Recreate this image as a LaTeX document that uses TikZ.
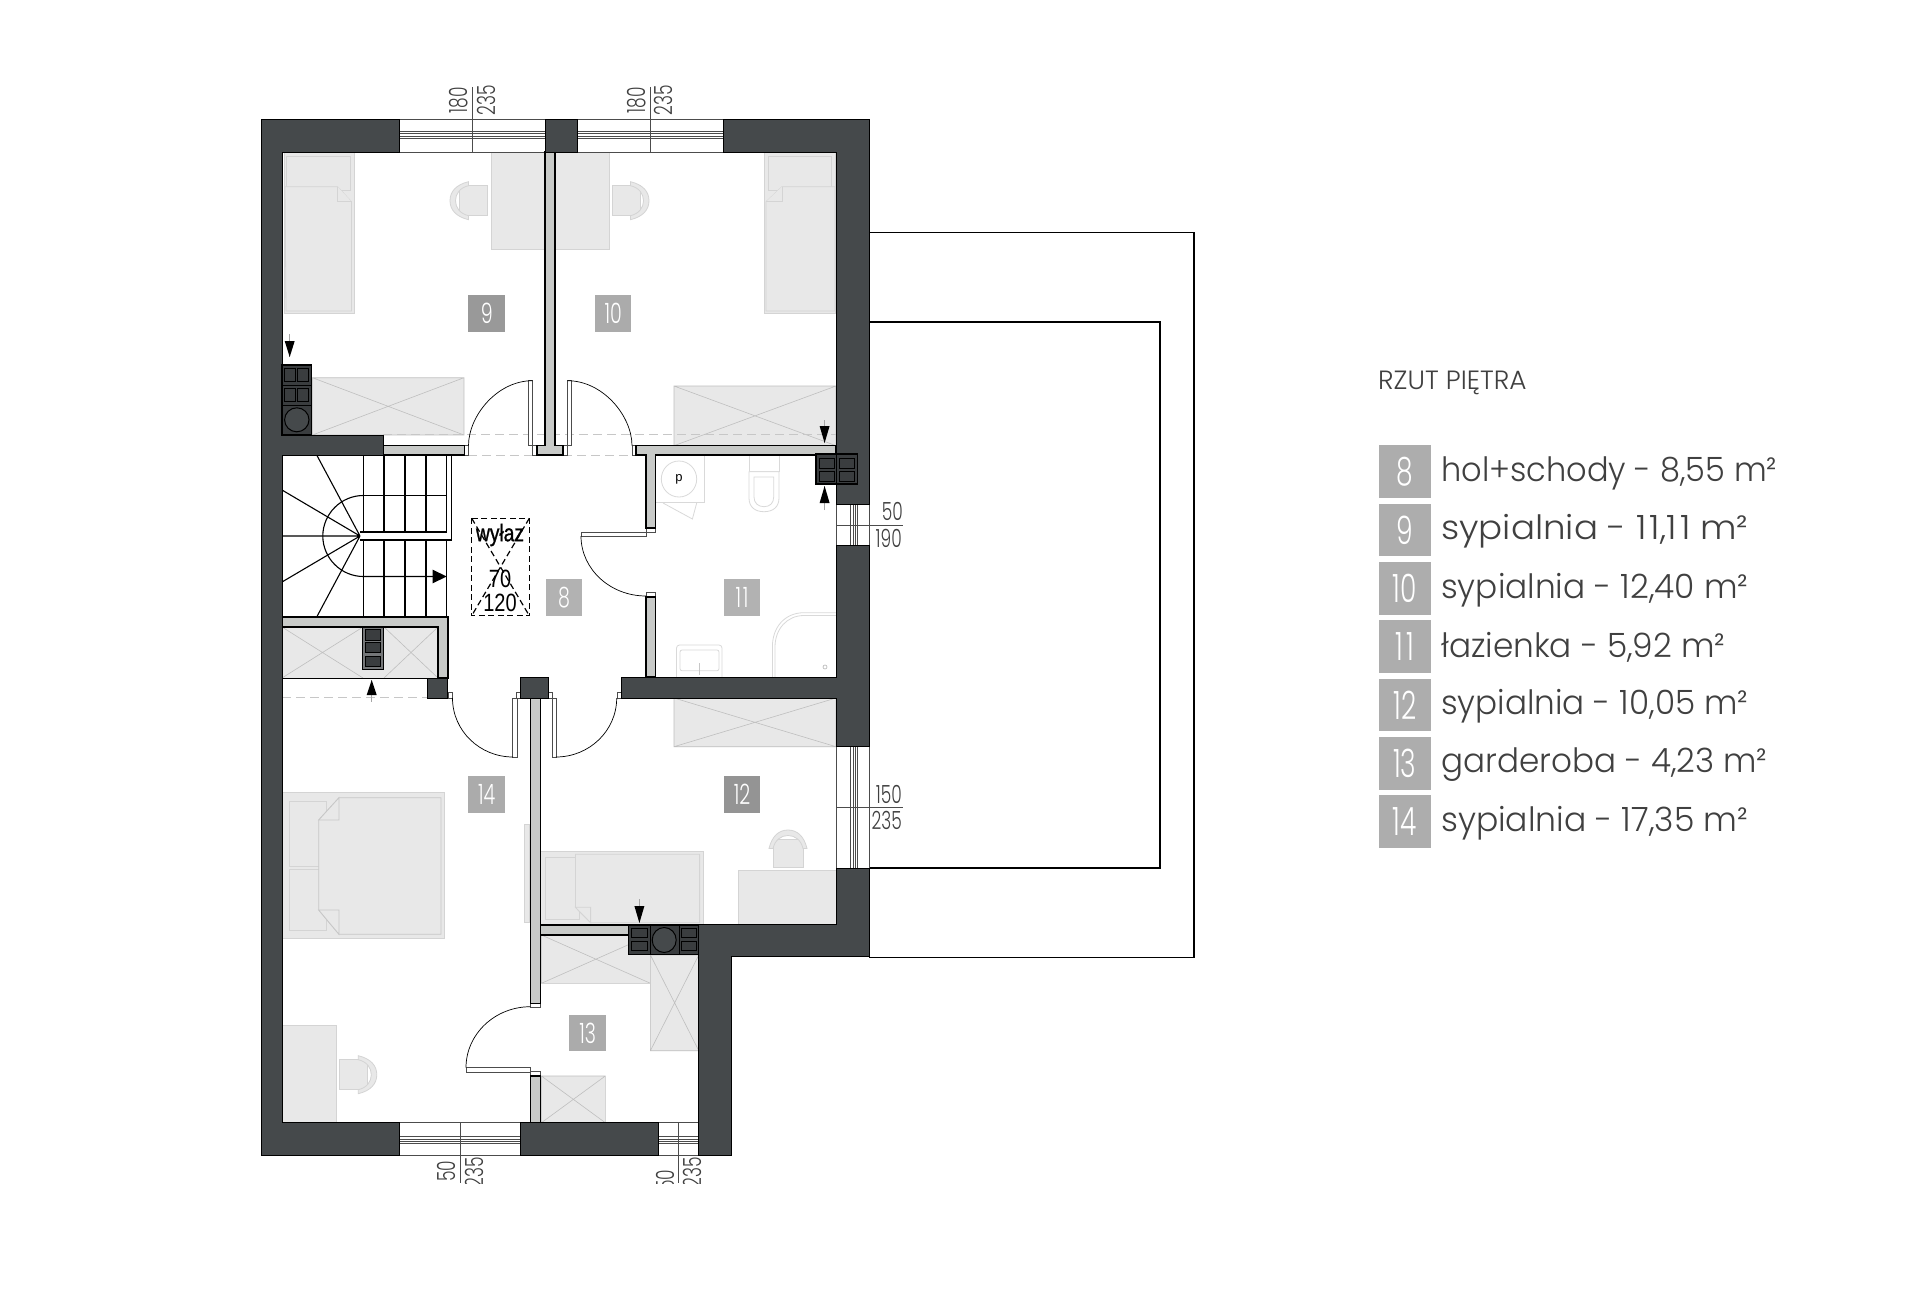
\documentclass[tikz,border=0pt]{standalone}
\usepackage{fontspec}
\setmainfont{Poppins}
\newfontfamily\lf{Poppins Light}
\newfontfamily\lib{Liberation Sans}
\newfontfamily\libb{Liberation Sans}[FakeBold=1.2]
\definecolor{wall}{HTML}{45494B}
\definecolor{part}{HTML}{C8CAC8}
\definecolor{furnf}{HTML}{E8E8E8}
\definecolor{furnd}{HTML}{D4D4D4}
\definecolor{txt}{HTML}{404040}
\definecolor{flue}{HTML}{3A3D3F}
\newcommand\fs[1]{\fontsize{#1}{#1}\selectfont}
\newcommand\nar[1]{\scalebox{.68}[1]{#1}}
\newcommand\fitw[2]{\resizebox{#1pt}{\height}{#2}}
\tikzset{
  wallp/.style={fill=wall,draw=black,line width=1pt,line join=miter},
  partp/.style={fill=part,draw=black,line width=1.2pt},
  furn/.style={fill=furnf,draw=furnd,line width=.8pt},
  xline/.style={draw=furnd!90!black,line width=.6pt},
  winl/.style={draw=black!70,line width=.6pt},
  dimtext/.style={font=\lf\fs{25},text=txt,inner sep=0pt},
  badge/.style={minimum width=36.5pt,minimum height=36.5pt,inner sep=0pt,text=white,font=\lf\fs{28}},
  lbadge/.style={fill=black!32,minimum width=52.7pt,minimum height=52.7pt,inner sep=0pt,text=white,font=\lf\fs{39},anchor=north west},
  legend/.style={font=\lf\fs{33.5},text=txt,anchor=base west,inner sep=0pt},
  thinblack/.style={draw=black,line width=.7pt},
  dashg/.style={draw=black!22,line width=1pt,dash pattern=on 9pt off 5pt},
  leaf/.style={fill=white,draw=black!70,line width=.7pt},
  stair/.style={draw=black,line width=1.1pt},
  sani/.style={draw=black!15,line width=.8pt,fill=white},
}
\newcommand\closet[4]{\fill[furnf] (#1,#2) rectangle (#3,#4);
  \draw[xline] (#1,#2) rectangle (#3,#4) (#1,#2) -- (#3,#4) (#1,#4) -- (#3,#2);}
\newcommand\chairpic{%
  \draw[furn] (9,-15) rectangle (37,15);
  \draw[furn] (18.5,-19) .. controls (6,-16) and (0,-9) .. (0,0) .. controls (0,9) and (6,16) .. (18.5,19)
     -- (18.5,15) .. controls (10,13) and (5.5,7) .. (5.5,0) .. controls (5.5,-7) and (10,-13) .. (18.5,-15) -- cycle;}
\newcommand\arrowd[4]{% x, stem end, head base, tip
  \draw[black!35,line width=.6pt] (#1,#2) -- (#1,#4);
  \fill[black] (#1-5,#3) -- (#1+5,#3) -- (#1,#4) -- cycle;}
\newcommand\flue[4]{\draw[fill=flue,draw=black,line width=1pt] (#1,#2) rectangle (#3,#4);}
\begin{document}
\begin{tikzpicture}[x=1pt,y=-1pt]
\useasboundingbox (0,0) rectangle (1920,1306);
\fill[white] (0,0) rectangle (1920,1306);
% terrace
\draw[black,line width=1.3pt] (869,232.5) -- (1194,232.5) -- (1194,957.5) -- (869,957.5);
\draw[black,line width=1.3pt] (869,322) -- (1160,322) -- (1160,868) -- (869,868);
% furniture: beds room 9
\draw[furn] (284,152.7) rectangle (354.5,313);
\draw[furn] (286,156) rectangle (350,190);
\draw[furn] (285,186.7) -- (337.6,186.7) -- (351.5,201.7) -- (351.5,311) -- (286,311) -- cycle;
\draw[furn] (337.6,186.7) -- (337.6,201.7) -- (351.5,201.7);
% bed room 10
\draw[furn] (764,152.7) rectangle (835.5,313);
\draw[furn] (768,156) rectangle (831,190);
\draw[furn] (782,186.7) -- (835,186.7) -- (835,311) -- (766,311) -- (766,201.7) -- cycle;
\draw[furn] (782,186.7) -- (782,201.7) -- (766,201.7);
% desks
\draw[furn] (491,152) rectangle (609,249);
\begin{scope}[shift={(450,200.7)}]\chairpic\end{scope}
\begin{scope}[shift={(649,200.7)},xscale=-1]\chairpic\end{scope}
% closets
\closet{312.4}{377.7}{464}{435}
\closet{674}{386}{836}{445.7}
\closet{674}{698}{836}{746.7}
\closet{541.4}{935}{650.4}{983.3}
\closet{650.4}{955}{698.8}{1050.7}
\closet{541.4}{1076}{605.3}{1122.7}
% bed room 14
\draw[furn] (282,792.7) rectangle (444,938.3);
\draw[furn] (289.7,801) rectangle (326.3,866);
\draw[furn] (289.7,869) rectangle (326.3,930.7);
\draw[furn,draw=black!22] (339,797.7) -- (441,797.7) -- (441,934.3) -- (339,934.3) -- (318.7,910) -- (318.7,820) -- cycle;
\draw[furn,draw=black!22] (339,797.7) -- (318.7,820) -- (339,820) -- cycle;
\draw[furn,draw=black!22] (339,934.3) -- (318.7,910) -- (339,910) -- cycle;
\draw[furn] (524,824) rectangle (529.5,922);
% bed room 12
\draw[furn] (540.5,851.7) rectangle (703,924);
\draw[furn] (545,857) rectangle (579,919.3);
\draw[furn] (575.4,854.3) -- (699.6,854.3) -- (699.6,922.7) -- (590.6,922.7) -- (575.4,907.3) -- cycle;
\draw[furn] (575.4,907.3) -- (590.6,907.3) -- (590.6,922.7) -- cycle;
% desk + chair room 12
\draw[furn] (738.7,870.7) rectangle (836,924);
\begin{scope}[shift={(788,830)},rotate=-90]\chairpic\end{scope}
% desk + chair room 14
\draw[furn] (282,1025.3) rectangle (336,1122.7);
\begin{scope}[shift={(376.8,1074.7)},xscale=-1]\chairpic\end{scope}
% bathroom
\draw[sani] (655.4,455) rectangle (704,502.7);
\draw[sani] (679,479) ellipse[x radius=17.7,y radius=18];
\draw[black!15,line width=.8pt] (663,503) -- (692.4,519) -- (696.7,503);
\draw[sani] (749,455) rectangle (779,471.7);
\draw[sani] (749,471.7) -- (749,498) .. controls (749,507) and (755,511.7) .. (764,511.7) .. controls (773,511.7) and (779,507) .. (779,498) -- (779,471.7) -- cycle;
\draw[sani] (754,477) -- (754,497) .. controls (754,503) and (758,506.7) .. (764,506.7) .. controls (770,506.7) and (773.7,503) .. (773.7,497) -- (773.7,477) -- cycle;
\draw[sani,rounded corners=3pt] (676.5,677) -- (676.5,645) -- (722,645) -- (722,677);
\draw[sani,rounded corners=2pt] (680,650) rectangle (719,670.7);
\draw[black!22,line width=.6pt] (699,663) -- (699,675);
\draw[black!15,line width=.8pt] (772.4,677) -- (772.4,646.7) .. controls (772.4,627) and (785,612.7) .. (804,612.7) -- (836,612.7);
\draw[black!15,line width=.8pt] (775,677) -- (775,647) .. controls (775,629) and (787,615.5) .. (804,615.5) -- (836,615.5);
\draw[black!30,line width=.6pt] (825,667) circle[radius=2];
\node[font=\lib\fs{13},text=black,inner sep=0pt] (pmark) at (679,479) {p};
% grey dashes
\draw[dashg] (383,434.3) -- (836,434.3);
\draw[dashg] (468,455) -- (537,455);
\draw[dashg] (563,455) -- (636,455);
\draw[dashg] (282,697.7) -- (427,697.7);
% windows
\foreach \a/\b in {399/545,577.5/723}{
  \fill[white] (\a,119) rectangle (\b,152);
  \draw[winl] (\a,119) -- (\b,119) (\a,152) -- (\b,152);
  \draw[winl] (\a,131) -- (\b,131) (\a,133.5) -- (\b,133.5) (\a,136) -- (\b,136) (\a,138) -- (\b,138);}
\foreach \a/\b in {399/520.7,658.8/698.8}{
  \draw[winl] (\a,1122.7) -- (\b,1122.7) (\a,1155.7) -- (\b,1155.7);
  \draw[winl] (\a,1136.7) -- (\b,1136.7) (\a,1139) -- (\b,1139) (\a,1141) -- (\b,1141) (\a,1143.3) -- (\b,1143.3);}
\foreach \a/\b in {504.3/545,746/868}{
  \draw[winl] (836,\a) -- (836,\b) (869,\a) -- (869,\b);
  \draw[winl] (850.7,\a) -- (850.7,\b) (853,\a) -- (853,\b) (855,\a) -- (855,\b) (857,\a) -- (857,\b);}
% dimension lines
\draw[winl] (472,87) -- (472,152);
\draw[winl] (650,87) -- (650,152);
\draw[winl] (460,1122.7) -- (460,1183);
\draw[winl] (678.6,1122.7) -- (678.6,1183);
\draw[winl] (836,525) -- (903,525);
\draw[winl] (836,807) -- (903,807);
% dimension text
\node[dimtext,rotate=90] (d1) at (458.5,100) {\nar{180}};
\node[dimtext,rotate=90] (d2) at (486,100) {\nar{235}};
\node[dimtext,rotate=90] (d3) at (637,100) {\nar{180}};
\node[dimtext,rotate=90] (d4) at (663.6,100) {\nar{235}};
\begin{scope}
\clip (400,1150) rectangle (720,1183);
\node[dimtext,rotate=90] (d5) at (446.5,1171) {\nar{50}};
\node[dimtext,rotate=90] (d6) at (474,1172) {\nar{235}};
\node[dimtext,rotate=90] (d7) at (665,1180) {\nar{50}};
\node[dimtext,rotate=90] (d8) at (692.5,1172) {\nar{235}};
\end{scope}
\node[dimtext,anchor=east] (d9) at (903,511) {\nar{50}};
\node[dimtext,anchor=east] (d10) at (902,538.5) {\nar{190}};
\node[dimtext,anchor=east] (d11) at (902,794.5) {\nar{150}};
\node[dimtext,anchor=east] (d12) at (902,820.5) {\nar{235}};
% door leaves and frames
\draw[leaf] (464.3,445.7) rectangle (468.5,455);
\draw[leaf] (632,445.7) rectangle (636,455);
\draw[leaf] (532.5,445.7) rectangle (537,455);
\draw[leaf] (563,445.7) rectangle (567.4,455);
\draw[leaf] (528,380.7) rectangle (532.5,445.7);
\draw[leaf] (567.4,380.7) rectangle (571.5,445.7);
\draw[leaf] (581,532) rectangle (646,536);
\draw[leaf] (646,528) rectangle (655.4,532);
\draw[leaf] (646,592.5) rectangle (655.4,597);
\draw[leaf] (448,692) rectangle (452.5,698);
\draw[leaf] (516.5,692) rectangle (520.7,698);
\draw[leaf] (548.5,692) rectangle (552,698);
\draw[leaf] (617.5,692) rectangle (621,698);
\draw[leaf] (512.7,698) rectangle (517,757);
\draw[leaf] (552,698) rectangle (556.5,757);
\draw[leaf] (466,1067.7) rectangle (530.4,1072);
\draw[leaf] (530.4,1003.3) rectangle (540.5,1007);
\draw[leaf] (530.4,1071.7) rectangle (540.5,1076);
\draw[thinblack] (532.5,380.7) .. controls (497,380.7) and (468.5,416) .. (468.5,445.7);
\draw[thinblack] (567.4,380.7) .. controls (603,380.7) and (632,416) .. (632,445.7);
\draw[thinblack] (581,536) .. controls (581,569) and (610,596) .. (646,596);
\draw[thinblack] (452.5,698) .. controls (452.5,731) and (480,757) .. (513,757);
\draw[thinblack] (616.7,698) .. controls (616.7,731) and (589,757) .. (556,757);
\draw[thinblack] (466,1067.7) .. controls (466,1034) and (495,1006.7) .. (530.4,1006.7);
% stairs
\foreach \xx in {363.3,384,405,426}{\draw[stair] (\xx,455) -- (\xx,532) (\xx,540) -- (\xx,617);}
\draw[stair] (446.7,540) -- (446.7,617);
\draw[stair] (363.3,495.7) -- (446.7,495.7);
\draw[stair] (360,532) -- (446.7,532) -- (446.7,455);
\draw[stair] (360,540) -- (451.7,540) -- (451.7,455);
\draw[stair] (360,536) -- (316.7,455) (360,536) -- (282,490) (360,536) -- (282,536) (360,536) -- (282,582) (360,536) -- (316.7,617);
\draw[stair] (363.3,495.5) .. controls (341,495.5) and (322.8,514) .. (322.8,536) .. controls (322.8,558) and (341,576.5) .. (363.3,576.5) -- (434,576.5);
\fill[black] (432.7,569.7) -- (446.7,576.5) -- (432.7,583.3) -- cycle;
% partitions
\draw[partp] (545,152) -- (555,152) -- (555,445.7) -- (563,445.7) -- (563,455) -- (537,455) -- (537,445.7) -- (545,445.7) -- cycle;
\draw[partp] (383,445.7) rectangle (464.3,455);
\draw[partp] (636,445.7) -- (836,445.7) -- (836,455) -- (655.4,455) -- (655.4,528) -- (646,528) -- (646,455) -- (636,455) -- cycle;
\draw[partp] (646,597) rectangle (655.4,677);
% below-stair unit
\fill[furnf] (282,627) rectangle (438,678);
\draw[xline] (282,627) -- (363,678) (282,678) -- (363,627) (384,627) -- (438,678) (384,678) -- (438,627);
\draw[partp] (282,617) -- (448,617) -- (448,678) -- (438,678) -- (438,627) -- (282,627) -- cycle;
\draw[black,line width=1.2pt] (282,678.3) -- (427,678.3);
\draw[fill=flue!70!white,draw=black,line width=1.2pt] (362.7,627) rectangle (383.3,669.3);
\flue{365.7}{629.3}{380.7}{640}
\flue{365.7}{642.7}{380.7}{652.7}
\flue{365.7}{656}{380.7}{666}
% lower partitions
\draw[partp] (530.4,698) rectangle (540.5,1003.3);
\draw[partp] (530.4,1076) rectangle (540.5,1122.7);
\draw[partp] (540.5,925) rectangle (628.5,935);
% walls
\draw[wallp] (399,119) -- (261,119) -- (261,1155.7) -- (399,1155.7) -- (399,1122.7) -- (282,1122.7) -- (282,455) -- (383,455) -- (383,435) -- (282,435) -- (282,152) -- (399,152) -- cycle;
\draw[wallp] (723,119) -- (869,119) -- (869,504.3) -- (836,504.3) -- (836,152) -- (723,152) -- cycle;
\draw[wallp] (621,677) -- (836,677) -- (836,545) -- (869,545) -- (869,746) -- (836,746) -- (836,698) -- (621,698) -- cycle;
\draw[wallp] (836,868) -- (869,868) -- (869,956.7) -- (731.6,956.7) -- (731.6,1155.7) -- (698.8,1155.7) -- (698.8,924) -- (836,924) -- cycle;
\draw[wallp] (545,119) rectangle (577.5,152);
\draw[wallp] (520.7,1122.7) rectangle (658.8,1155.7);
\draw[wallp] (427.3,678.3) rectangle (447.7,698.3);
\draw[wallp] (520.7,677) rectangle (548.5,698);
% chimneys
\draw[fill=flue,draw=black,line width=1.2pt] (282,365) rectangle (311.5,435);
\draw[black,line width=1pt] (282,385.5) -- (311.5,385.5) (282,405) -- (311.5,405);
\flue{284}{368}{295.5}{381.7}\flue{297.7}{368}{308.6}{381.7}
\flue{284}{388}{295.5}{401.7}\flue{297.7}{388}{308.6}{401.7}
\draw[fill=wall,draw=black,line width=1pt] (296.8,419.8) ellipse[x radius=12.2,y radius=12];
\draw[fill=flue,draw=black,line width=1.2pt] (816,454) rectangle (857.3,484);
\draw[black,line width=1pt] (836,454) -- (836,484);
\flue{819.3}{458.3}{834}{468.3}\flue{839.3}{458.3}{854.3}{468.3}
\flue{819.3}{471.7}{834}{481}\flue{839.3}{471.7}{854.3}{481}
\draw[fill=flue,draw=black,line width=1.2pt] (628.5,925) rectangle (698.8,954.3);
\draw[black,line width=1pt] (650,925) -- (650,954.3) (679,925) -- (679,954.3);
\flue{631.4}{928.3}{647.4}{937.3}\flue{631.4}{941}{647.4}{950}
\flue{681}{928.3}{696.6}{937.3}\flue{681}{941}{696.6}{950}
\draw[fill=wall,draw=black,line width=1pt] (664.2,940) ellipse[x radius=12,y radius=12.5];
% small arrows
\arrowd{289.7}{334}{341}{357}
\arrowd{824.6}{420}{426}{443}
\arrowd{639.4}{899.3}{906}{923}
\arrowd{371.7}{701.7}{695}{680}
\arrowd{824.6}{510}{503}{486}
% hatch
\draw[black,line width=1.5pt,dash pattern=on 6pt off 3.5pt] (471.7,518.3) rectangle (529.3,615.7);
\draw[black,line width=1.2pt,dash pattern=on 6pt off 3.5pt] (471.7,518.3) -- (529.3,615.7) (529.3,518.3) -- (471.7,615.7);
\node[font=\libb\fs{24},text=black,inner sep=0pt] (wy) at (500,535) {\scalebox{.8}[1]{wyłaz}};
\node[font=\lib\fs{25},text=black,inner sep=0pt] (hw) at (500,579) {\scalebox{.8}[1]{70}};
\node[font=\lib\fs{25},text=black,inner sep=0pt] (hh) at (500,603) {\scalebox{.8}[1]{120}};
% room badges
\node[badge,fill=black!40] (b9) at (486.7,313.3) {\nar{9}};
\node[badge,fill=black!33] (b10) at (613.2,313.3) {\nar{10}};
\node[badge,fill=black!30] (b8) at (564,597.3) {\nar{8}};
\node[badge,fill=black!30] (b11) at (742,597.3) {\nar{1\kern2.5pt 1}};
\node[badge,fill=black!33] (b14) at (486.7,794.3) {\nar{14}};
\node[badge,fill=black!42] (b12) at (742,794.3) {\nar{12}};
\node[badge,fill=black!33] (b13) at (587.7,1033) {\nar{13}};
% legend
\node[font=\lf\fs{26.4},text=txt,anchor=base west,inner sep=0pt] (title) at (1378,389) {RZUT PIĘTRA};
\node[lbadge] (l8) at (1378.3,445) {\nar{8}};
\node[lbadge] (l9) at (1378.3,503.5) {\nar{9}};
\node[lbadge] (l10) at (1378.3,561.7) {\nar{10}};
\node[lbadge] (l11) at (1378.3,620) {\nar{1\kern4pt 1}};
\node[lbadge] (l12) at (1378.3,678.3) {\nar{12}};
\node[lbadge] (l13) at (1378.3,736.7) {\nar{13}};
\node[lbadge] (l14) at (1378.3,795) {\nar{14}};
\node[legend] (t8) at (1441,481) {\fitw{336}{hol+schody - 8,55 m²}};
\node[legend] (t9) at (1441,539.7) {\fitw{307}{sypialnia - 1\kern3pt 1,1\kern3pt 1 m²}};
\node[legend] (t10) at (1441,598) {\fitw{307}{sypialnia - 12,40 m²}};
\node[legend] (t11) at (1441,657) {\fitw{284}{łazienka - 5,92 m²}};
\node[legend] (t12) at (1441,714.5) {\fitw{307}{sypialnia - 10,05 m²}};
\node[legend] (t13) at (1441,772.7) {\fitw{326}{garderoba - 4,23 m²}};
\node[legend] (t14) at (1441,831) {\fitw{307}{sypialnia - 17,35 m²}};
\end{tikzpicture}
\end{document}
